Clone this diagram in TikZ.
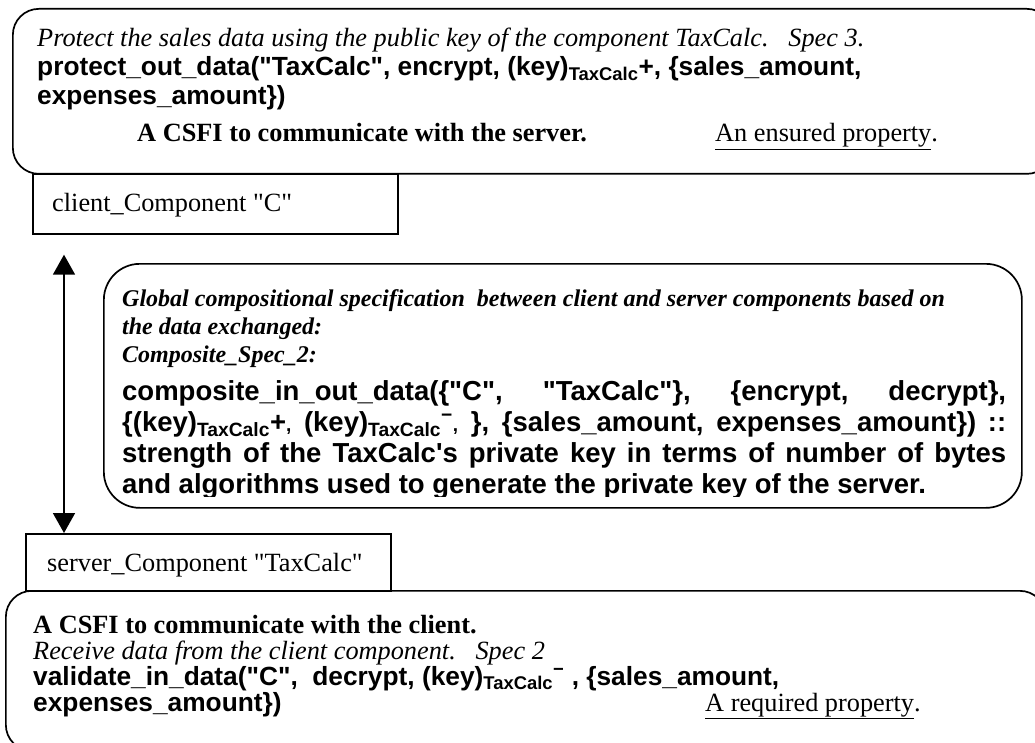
\documentclass[tikz,border=0pt]{standalone}
\usepackage{fontspec}
\newfontfamily\tms{Liberation Serif}
\newfontfamily\arl{Liberation Sans}
\usetikzlibrary{arrows.meta}
\newcommand{\subtx}[1]{\textsubscript{#1}}
\newcommand{\mns}{\textsuperscript{−}}
\begin{document}
\begin{tikzpicture}[x=1pt,y=-1pt,
  frame/.style={draw, line width=1.7pt, inner sep=0pt, anchor=north west},
  tl/.style={anchor=base west, inner sep=0pt},
  tr/.style={tl, font=\tms\fontsize{26.3}{30}\selectfont},
  ti/.style={tl, font=\tms\itshape\fontsize{26.3}{30}\selectfont},
  tb/.style={tl, font=\tms\bfseries\fontsize{26.3}{30}\selectfont},
  tbi/.style={tl, font=\tms\bfseries\itshape\fontsize{24}{27}\selectfont},
  ab/.style={tl, font=\arl\bfseries\fontsize{26.3}{30}\selectfont},
  abm/.style={tl, font=\arl\bfseries\fontsize{27.5}{31}\selectfont},
  link/.style={line width=1.7pt, {Triangle[length=20pt,width=22pt]}-{Triangle[length=20pt,width=22pt]}}]
\clip (0,0) rectangle (1035,743);
\fill[white] (0,0) rectangle (1035,743);

% top box
\node[frame, rounded corners=26pt, minimum width=1040pt, minimum height=165pt] (topbox) at (12,8) {};
\node[ti] (t1) at (37,47) {Protect the sales data using the public key of the component TaxCalc.\ \ \ Spec 3.};
\node[ab] (t2) at (37,76) {protect\_out\_data("TaxCalc", encrypt, (key)\subtx{TaxCalc}+, \{sales\_amount,};
\node[ab] (t3) at (37,105) {expenses\_amount\})};
\node[tb] (t4) at (137,142) {A CSFI to communicate with the server.};
\node[tr] (t5) at (715,142) {\underline{An ensured property}.};

% client box
\node[frame, minimum width=365pt, minimum height=60pt] (client) at (32,173) {};
\node[tr] (ctext) at (52,212) {client\_Component "C"};

% middle box
\node[frame, rounded corners=36pt, minimum width=918pt, minimum height=244pt] (midbox) at (103,263) {};
\begin{scope}
\clip (103,263) rectangle (1021,496.5);
\node[tbi] (m1) at (122,306) {Global compositional specification\ \ between client and server components based on};
\node[tbi] (m2) at (122,334) {the data exchanged:};
\node[tbi] (m3) at (122,362) {Composite\_Spec\_2:};
\node[abm] (m4) at (122,400) {\makebox[884pt][s]{composite\_in\_out\_data(\{"C", "TaxCalc"\}, \{encrypt, decrypt\},}};
\node[abm] (m5) at (122,431) {\makebox[884pt][s]{\{(key)\subtx{TaxCalc}+{\fontsize{19}{20}\selectfont,} (key)\subtx{TaxCalc}\mns{\fontsize{19}{20}\selectfont,} \}, \{sales\_amount, expenses\_amount\}) ::}};
\node[abm] (m6) at (122,462) {\makebox[884pt][s]{strength of the TaxCalc's private key in terms of number of bytes}};
\node[abm] (m7) at (122,493) {and algorithms used to generate the private key of the server.};
\end{scope}

% server box
\node[frame, minimum width=365pt, minimum height=57pt] (server) at (25,533) {};
\node[tr] (stext) at (47,571) {server\_Component "TaxCalc"};

% bottom box
\node[frame, rounded corners=26pt, minimum width=1040pt, minimum height=160pt] (botbox) at (5,590) {};
\node[tb] (b1) at (33,633) {A CSFI to communicate with the client.};
\node[ti] (b2) at (33,659) {Receive data from the client component.\ \ \ Spec 2};
\node[ab] (b3) at (33,685) {validate\_in\_data("C",\ \ decrypt, (key)\subtx{TaxCalc}\mns\ , \{sales\_amount,};
\node[ab] (b4) at (33,711) {expenses\_amount\})};
\node[tr] (b5) at (705,711) {\underline{A required property}.};

% arrow
\coordinate (atop) at ([xshift=32pt,yshift=-20pt]client.south west);
\coordinate (abot) at ([xshift=39pt]server.north west);
\draw[link] (atop) -- (abot);
\end{tikzpicture}
\end{document}
